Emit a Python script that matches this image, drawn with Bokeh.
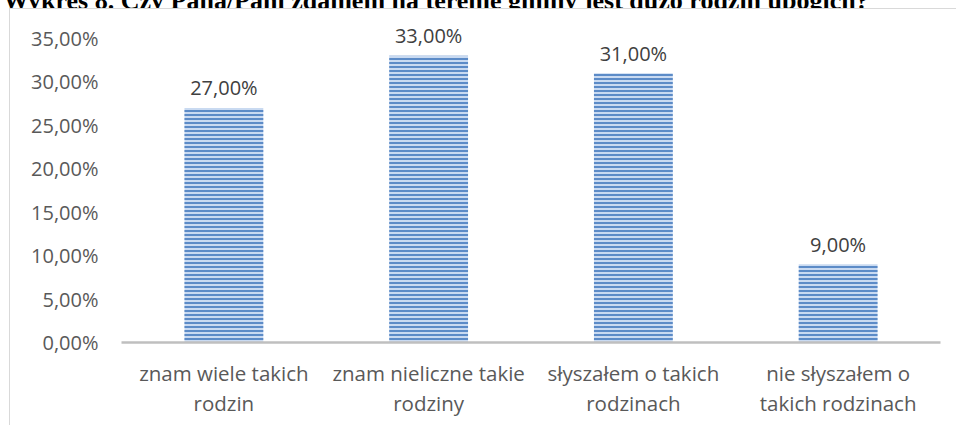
from bokeh.plotting import figure
from bokeh.models import FixedTicker, ColumnDataSource, Div
from bokeh.layouts import column
from bokeh.core.properties import value
from bokeh.embed import file_html
from bokeh.resources import INLINE

title_text = "Wykres 8. Czy Pana/Pani zdaniem na terenie gminy jest dużo rodzin ubogich?"
categories = ["znam wiele takich\nrodzin", "znam nieliczne takie\nrodziny",
              "słyszałem o takich\nrodzinach", "nie słyszałem o\ntakich rodzinach"]
values = [27.0, 33.0, 31.0, 9.0]
value_labels = ["27,00%", "33,00%", "31,00%", "9,00%"]
y_ticks = [0, 5, 10, 15, 20, 25, 30, 35]
y_tick_labels = ["0,00%", "5,00%", "10,00%", "15,00%", "20,00%", "25,00%", "30,00%", "35,00%"]

FONT = "Open Sans"
W = 956
TOP_H = 8           # strip above the chart box where the cut-off title sits
H = 425 - TOP_H

# title: only its lower part is visible, as in the reference
title_div = Div(text=title_text, width=W, height=TOP_H, margin=0, styles={
    "font-family": "'Liberation Serif', serif",
    "font-weight": "bold",
    "font-size": "26px",
    "line-height": "26px",
    "white-space": "nowrap",
    "color": "black",
    "position": "relative",
    "top": "-12px",
    "left": "3px",
    "overflow": "visible",
})

p = figure(x_range=categories, y_range=(0, 37.07), width=W, height=H,
           output_backend="svg", toolbar_location=None,
           min_border_left=121, min_border_right=16,
           min_border_top=12, min_border_bottom=83)
p.margin = 0
# light gray chart box lines (left and top edges) behind the transparent canvas
p.styles = {
    "background": ("linear-gradient(#d9d9d9, #d9d9d9) 9px 0px / 100% 1px no-repeat, "
                   "linear-gradient(#d9d9d9, #d9d9d9) 9px 0px / 1px 100% no-repeat, white"),
}
p.outline_line_color = None
p.xgrid.grid_line_color = None
p.ygrid.grid_line_color = None
p.background_fill_color = None
p.border_fill_color = None

src = ColumnDataSource(dict(x=categories, top=values, lab=value_labels))
p.vbar(x="x", top="top", width=0.385, source=src,
       fill_color="#c9daf1", line_color=None,
       hatch_pattern="horizontal_line", hatch_color="#5082c2",
       hatch_weight=1.8, hatch_scale=4)

p.text(x="x", y="top", text="lab", source=src, y_offset=-20,
       text_align="center", text_baseline="alphabetic",
       text_font=value(FONT), text_font_size="20px", text_color="#404040")

# y axis
ya = p.yaxis[0]
ya.ticker = FixedTicker(ticks=y_ticks)
ya.major_label_overrides = {t: l for t, l in zip(y_ticks, y_tick_labels)}
ya.axis_line_color = None
ya.major_tick_line_color = None
ya.minor_tick_line_color = None
ya.major_tick_out = 0
ya.major_label_standoff = 23
ya.major_label_text_font = FONT
ya.major_label_text_font_size = "20px"
ya.major_label_text_color = "#595959"

# x axis
xa = p.xaxis[0]
xa.axis_line_color = "#bfbfbf"
xa.axis_line_width = 2.5
xa.major_tick_line_color = None
xa.minor_tick_line_color = None
xa.major_tick_out = 0
xa.major_label_standoff = 16
xa.major_label_text_font = FONT
xa.major_label_text_font_size = "20.5px"
xa.major_label_text_color = "#595959"
xa.major_label_text_line_height = 1.1

layout = column(title_div, p, spacing=0)

open("out.html", "w").write(file_html(layout, INLINE))
